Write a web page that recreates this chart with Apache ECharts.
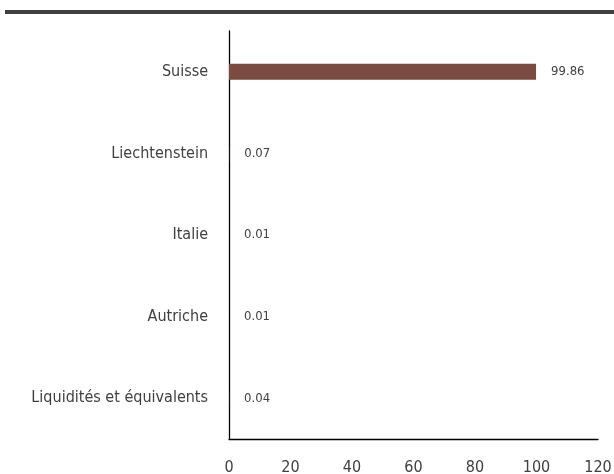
<!DOCTYPE html>
<html>
<head>
<meta charset="utf-8">
<script src="https://cdn.jsdelivr.net/npm/echarts@6/dist/echarts.min.js"></script>
<style>
  html, body { margin: 0; padding: 0; background: #fff; }
  #chart { width: 614px; height: 474px; }
</style>
</head>
<body>
<div id="chart"></div>
<script>
    // pays, du haut vers le bas
    let categories = ['Suisse', 'Liechtenstein', 'Italie', 'Autriche', 'Liquidités et équivalents']
    let values = [99.86, 0.07, 0.01, 0.01, 0.04]
    let xTicks = [0, 20, 40, 60, 80, 100, 120]

    let font = '"Liberation Sans Narrow", "DejaVu Sans Condensed", sans-serif'
    let chart = echarts.init(document.getElementById('chart'))

    let option = {
        backgroundColor: '#fff',
        animation: false,
        graphic: [{
            type: 'rect',
            shape: { x: 5, y: 10, width: 609, height: 4 },
            style: { fill: '#404040' }
        }],
        grid: {
            left: 229,
            right: 16,
            top: 31,
            height: 408,
            outerBoundsMode: 'none'
        },
        xAxis: {
            type: 'value',
            min: xTicks[0],
            max: xTicks[xTicks.length - 1],
            interval: 20,
            splitLine: { show: false },
            axisTick: { show: false },
            axisLine: { show: true, lineStyle: { color: '#000', width: 1.3 } },
            axisLabel: {
                color: '#404040',
                fontFamily: font,
                fontSize: 16,
                margin: 21
            }
        },
        yAxis: {
            type: 'category',
            inverse: true,
            data: categories,
            axisTick: { show: false },
            axisLine: { show: true, lineStyle: { color: '#000', width: 1.3 } },
            axisLabel: {
                color: '#404040',
                fontFamily: font,
                fontSize: 16,
                margin: 21
            }
        },
        series: [{
            type: 'bar',
            data: values,
            barWidth: 16,
            itemStyle: { color: '#7b4a41' },
            label: {
                show: true,
                position: 'right',
                distance: 15,
                color: '#404040',
                fontFamily: font,
                fontSize: 13
            }
        }]
    }

    chart.setOption(option)
</script>
</body>
</html>
